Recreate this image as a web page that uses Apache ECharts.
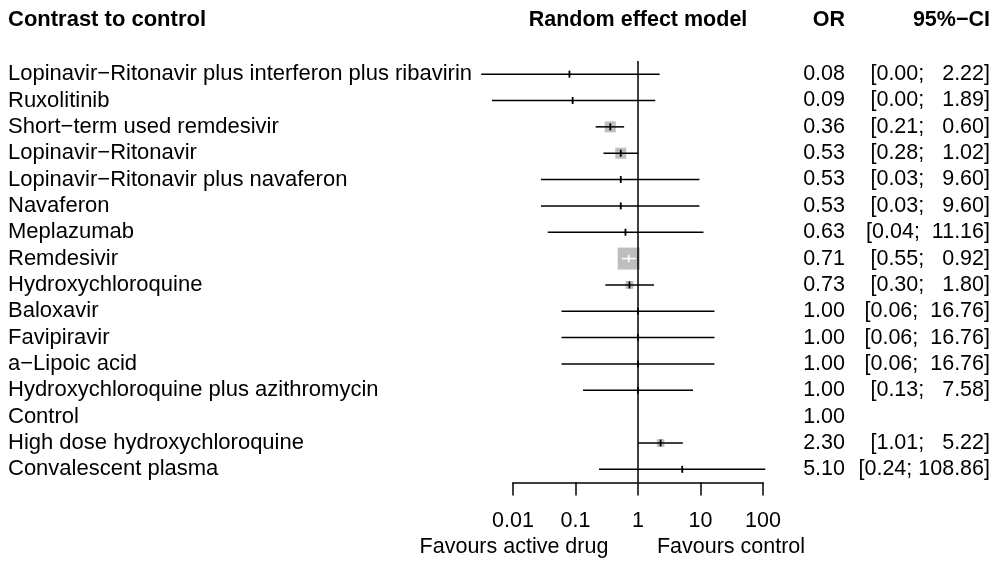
<!DOCTYPE html>
<html>
<head>
<meta charset="utf-8">
<script src="https://cdn.jsdelivr.net/npm/echarts@6/dist/echarts.min.js"></script>
<style>
html,body{margin:0;padding:0;background:#fff;}
#chart{width:995px;height:563px;}
</style>
</head>
<body>
<div id="chart"></div>
<script>
// ---- data ----
const treatments = [
  'Lopinavir\u2212Ritonavir plus interferon plus ribavirin',
  'Ruxolitinib',
  'Short\u2212term used remdesivir',
  'Lopinavir\u2212Ritonavir',
  'Lopinavir\u2212Ritonavir plus navaferon',
  'Navaferon',
  'Meplazumab',
  'Remdesivir',
  'Hydroxychloroquine',
  'Baloxavir',
  'Favipiravir',
  'a\u2212Lipoic acid',
  'Hydroxychloroquine plus azithromycin',
  'Control',
  'High dose hydroxychloroquine',
  'Convalescent plasma'
];
const oddsRatio = [0.08, 0.09, 0.36, 0.53, 0.53, 0.53, 0.63, 0.71, 0.73, 1.00, 1.00, 1.00, 1.00, 1.00, 2.30, 5.10];
const ciLower   = [0.0031, 0.0046, 0.21, 0.28, 0.028, 0.028, 0.036, 0.55, 0.30, 0.0597, 0.0597, 0.0597, 0.132, null, 1.01, 0.238];
const ciUpper   = [2.22, 1.89, 0.60, 1.02, 9.60, 9.60, 11.16, 0.92, 1.80, 16.76, 16.76, 16.76, 7.58, null, 5.22, 108.86];
const weights   = [1, 1, 25, 25, 1, 1, 1, 100, 13, 1, 1, 1, 1, null, 12, 1];
const tickLabels = ['0.01', '0.1', '1', '10', '100'];
const headers = { study: 'Contrast to control', model: 'Random effect model', or: 'OR', ci: '95%\u2212CI' };
const sideLabels = { left: 'Favours active drug', right: 'Favours control' };

// ---- formatting ----
const FONT = '"Liberation Sans", Arial, Helvetica, sans-serif';
const FS = 21.5;
const FS_LABEL = 22;
const orText = oddsRatio.map(v => v.toFixed(2));
const ciText = ciLower.map((lo, i) => {
  if (lo == null) return '';
  const l = lo.toFixed(2).padStart(4, ' ');
  const u = ciUpper[i].toFixed(2).padStart(6, ' ');
  return '[' + l + '; ' + u + ']';
});

const seriesData = [];
treatments.forEach((t, i) => {
  if (ciLower[i] == null) return;
  seriesData.push([i, oddsRatio[i], ciLower[i], ciUpper[i], weights[i]]);
});

const GRID_LEFT = 513, GRID_W = 250, GRID_TOP = 61, GRID_H = 421.5;
const SQ_K = 2.2;
const LW = 1.5;

const chart = echarts.init(document.getElementById('chart'), null, { renderer: 'canvas' });
const hiddenAxis = { axisLine: { show: false }, axisTick: { show: false }, splitLine: { show: false } };

chart.setOption({
  animation: false,
  backgroundColor: '#ffffff',
  textStyle: { fontFamily: FONT },
  grid: { left: GRID_LEFT, top: GRID_TOP, width: GRID_W, height: GRID_H, containLabel: false },
  xAxis: {
    type: 'log', logBase: 10, min: 0.01, max: 100, interval: 1,
    axisLine: { show: true, onZero: false, lineStyle: { color: '#000', width: LW } },
    axisTick: { show: true, length: 13, lineStyle: { color: '#000', width: LW } },
    splitLine: { show: false },
    minorTick: { show: false },
    axisLabel: {
      color: '#000', fontSize: FS, fontFamily: FONT, margin: 28,
      formatter: (v, idx) => tickLabels[idx]
    }
  },
  yAxis: [
    Object.assign({
      type: 'category', data: treatments, inverse: true, position: 'left',
      axisLabel: { interval: 0, align: 'left', margin: GRID_LEFT - 8, color: '#000', fontSize: FS_LABEL, fontFamily: FONT }
    }, hiddenAxis),
    Object.assign({
      type: 'category', data: treatments, inverse: true, position: 'right',
      axisLabel: { interval: 0, align: 'right', margin: 845 - (GRID_LEFT + GRID_W), color: '#000', fontSize: FS, fontFamily: FONT,
        formatter: (v, idx) => orText[idx] }
    }, hiddenAxis),
    Object.assign({
      type: 'category', data: treatments, inverse: true, position: 'right',
      axisLabel: { interval: 0, align: 'right', margin: 990 - (GRID_LEFT + GRID_W), color: '#000', fontSize: FS, fontFamily: FONT,
        formatter: (v, idx) => ciText[idx] }
    }, hiddenAxis)
  ],
  series: [
    {
      type: 'custom',
      xAxisIndex: 0, yAxisIndex: 0,
      data: seriesData,
      encode: { x: [1, 2, 3], y: 0 },
      clip: false,
      renderItem: function (params, api) {
        const row = api.value(0);
        const est = api.coord([api.value(1), row]);
        const lo = api.coord([api.value(2), row]);
        const hi = api.coord([api.value(3), row]);
        const y = est[1];
        const side = SQ_K * Math.sqrt(api.value(4));
        const inside = lo[0] >= est[0] - side / 2 && hi[0] <= est[0] + side / 2;
        const lineColor = inside ? '#ffffff' : '#000000';
        return {
          type: 'group',
          children: [
            { type: 'rect', shape: { x: est[0] - side / 2, y: y - side / 2, width: side, height: side },
              style: { fill: '#bebebe' } },
            { type: 'line', shape: { x1: lo[0], y1: y, x2: hi[0], y2: y },
              style: { stroke: lineColor, lineWidth: LW } },
            { type: 'line', shape: { x1: est[0], y1: y - 3.5, x2: est[0], y2: y + 3.5 },
              style: { stroke: lineColor, lineWidth: 1.8 } }
          ]
        };
      },
      markLine: {
        silent: true, symbol: 'none', label: { show: false },
        lineStyle: { color: '#000', width: LW, type: 'solid' },
        data: [{ xAxis: 1 }]
      },
      z: 3
    }
  ],
  graphic: [
    { type: 'text', x: 8, y: 20, style: { text: headers.study, font: 'bold ' + FS_LABEL + 'px ' + FONT, fill: '#000', textAlign: 'left', textVerticalAlign: 'middle' } },
    { type: 'text', x: 638, y: 20, style: { text: headers.model, font: 'bold ' + FS + 'px ' + FONT, fill: '#000', textAlign: 'center', textVerticalAlign: 'middle' } },
    { type: 'text', x: 845, y: 20, style: { text: headers.or, font: 'bold ' + FS + 'px ' + FONT, fill: '#000', textAlign: 'right', textVerticalAlign: 'middle' } },
    { type: 'text', x: 990, y: 20, style: { text: headers.ci, font: 'bold ' + FS + 'px ' + FONT, fill: '#000', textAlign: 'right', textVerticalAlign: 'middle' } },
    { type: 'text', x: 514, y: 547, style: { text: sideLabels.left, font: FS + 'px ' + FONT, fill: '#000', textAlign: 'center', textVerticalAlign: 'middle' } },
    { type: 'text', x: 731, y: 547, style: { text: sideLabels.right, font: FS + 'px ' + FONT, fill: '#000', textAlign: 'center', textVerticalAlign: 'middle' } }
  ]
});
</script>
</body>
</html>
